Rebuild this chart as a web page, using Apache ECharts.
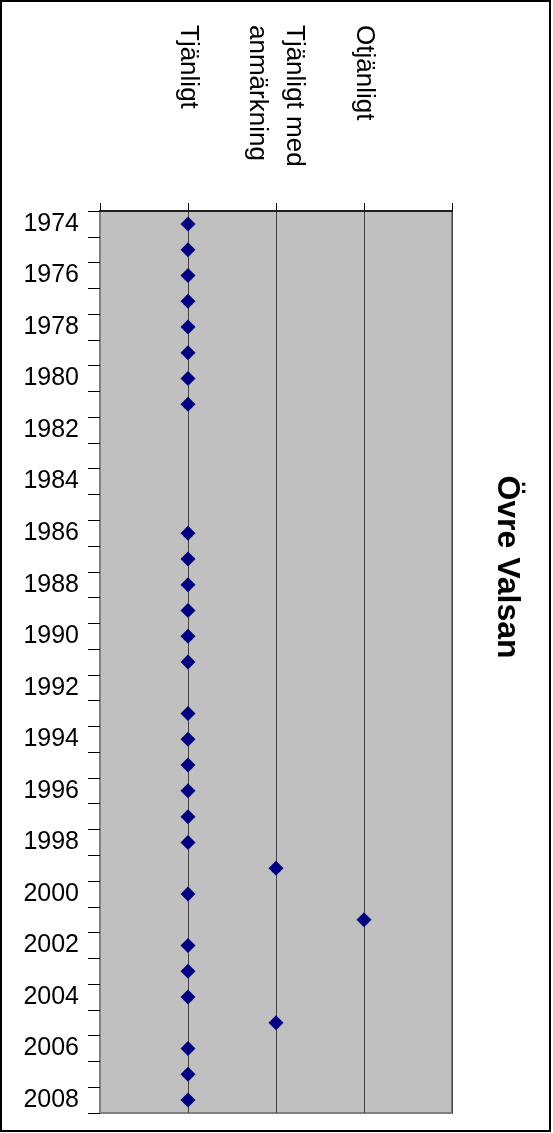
<!DOCTYPE html>
<html>
<head>
<meta charset="utf-8">
<script src="https://cdn.jsdelivr.net/npm/echarts@6/dist/echarts.min.js"></script>
<style>
html,body{margin:0;padding:0;background:#fff;}
#chart{width:553px;height:1133px;}
</style>
</head>
<body>
<div id="chart"></div>
<script>
// Data
var years = ['1974','1975','1976','1977','1978','1979','1980','1981','1982','1983','1984','1985','1986','1987','1988','1989','1990','1991','1992','1993','1994','1995','1996','1997','1998','1999','2000','2001','2002','2003','2004','2005','2006','2007','2008'];
// 1 = Tjänligt, 2 = Tjänligt med anmärkning, 3 = Otjänligt, null = no sample
var classes = [1,1,1,1,1,1,1,1,null,null,null,null,1,1,1,1,1,1,null,1,1,1,1,1,1,2,1,3,1,1,1,2,1,1,1];
var categoryLabels = ['', 'Tjänligt', 'Tjänligt med\nanmärkning', 'Otjänligt', ''];
var titleText = 'Övre Valsan';

var points = [];
for (var i = 0; i < years.length; i++) {
  if (classes[i] !== null) points.push([classes[i], years[i]]);
}

var FONT = '"Liberation Sans", Arial, sans-serif';
var chart = echarts.init(document.getElementById('chart'), null, {renderer: 'canvas'});
chart.setOption({
  animation: false,
  backgroundColor: '#ffffff',
  grid: {
    left: 100, right: 101, top: 211, bottom: 20,
    outerBoundsMode: 'none', containLabel: false,
    show: true, backgroundColor: '#c0c0c0', borderColor: '#808080', borderWidth: 2
  },
  xAxis: {
    type: 'value', position: 'top', min: 0, max: 4, interval: 1,
    axisLine: {show: true, lineStyle: {color: '#000', width: 1.5}},
    axisTick: {show: true, length: 8, lineStyle: {color: '#000'}},
    splitLine: {show: true, lineStyle: {color: '#404040', width: 1}},
    axisLabel: {
      formatter: function (v) { return categoryLabels[Math.round(v)] || ''; },
      rotate: 90, align: 'left', verticalAlign: 'middle', margin: 186,
      fontSize: 26, lineHeight: 37, color: '#000', fontFamily: FONT,
      showMinLabel: true, showMaxLabel: true, hideOverlap: false
    }
  },
  yAxis: {
    type: 'category', data: years, inverse: true, position: 'left', boundaryGap: true,
    axisLine: {show: true, lineStyle: {color: '#808080', width: 2}},
    axisTick: {show: true, length: 12, interval: 0, lineStyle: {color: '#000'}},
    axisLabel: {interval: 1, fontSize: 25, margin: 21, color: '#000', fontFamily: FONT},
    splitLine: {show: false}
  },
  series: [{
    type: 'scatter', data: points, symbol: 'diamond', symbolSize: 15,
    itemStyle: {color: '#000080', opacity: 1}
  }],
  graphic: [
    {type: 'rect', shape: {x: 1, y: 1, width: 549, height: 1130}, style: {fill: 'none', stroke: '#000', lineWidth: 2}, silent: true},
    {type: 'text', x: 507, y: 567, rotation: -Math.PI / 2,
     style: {text: titleText, font: 'bold 32px ' + FONT, fill: '#000', textAlign: 'center', textVerticalAlign: 'middle'}}
  ]
});
</script>
</body>
</html>
